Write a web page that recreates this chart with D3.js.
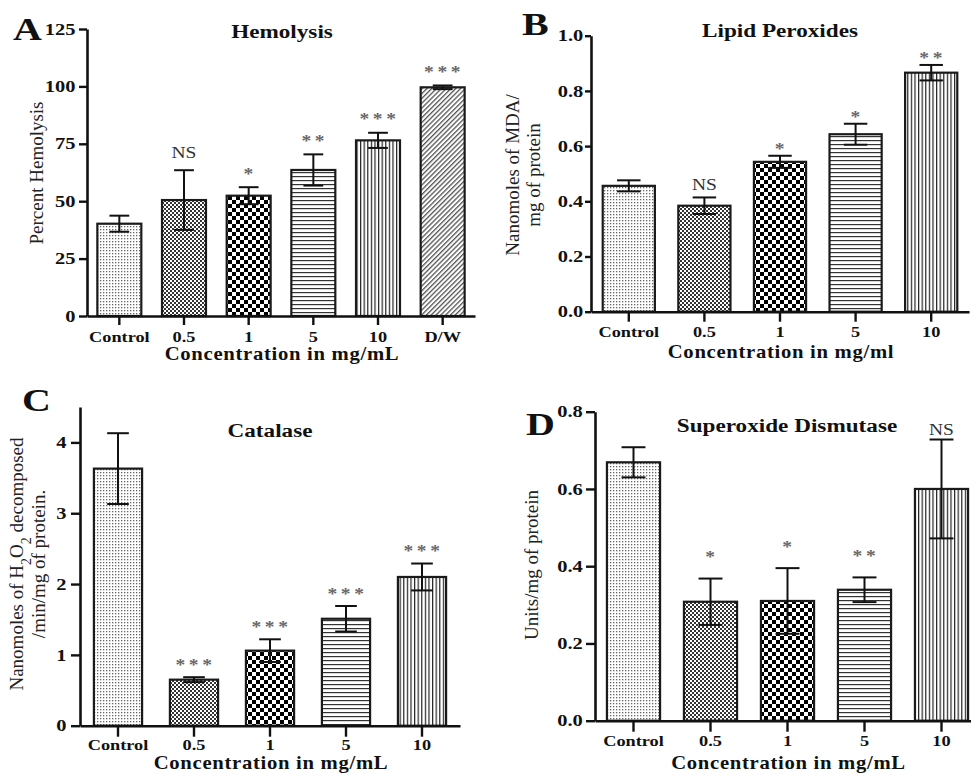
<!DOCTYPE html>
<html>
<head>
<meta charset="utf-8">
<script src="https://cdn.jsdelivr.net/npm/d3@7"></script>
<style>
  body { margin: 0; background: #fff; }
  text { font-family: "Liberation Serif", "Times New Roman", serif; }
</style>
</head>
<body>
<div id="chart"></div>
<script>
// ---- data ----
const groupsA = ["Control", "0.5", "1", "5", "10", "D/W"];
const groups = ["Control", "0.5", "1", "5", "10"];

const hemolysisMean = [40.2, 50.5, 52.4, 63.6, 76.5, 99.6];
const hemolysisErr = [3.5, 13.0, 3.7, 6.8, 3.3, 0.8];
const hemolysisSig = ["", "NS", "*", "**", "***", "***"];
const hemolysisTicks = [0, 25, 50, 75, 100, 125];

const lipidMean = [0.456, 0.384, 0.543, 0.643, 0.866];
const lipidErr = [0.02, 0.03, 0.022, 0.038, 0.028];
const lipidSig = ["", "NS", "*", "*", "**"];
const lipidTicks = [0, 0.2, 0.4, 0.6, 0.8, 1.0];

const catalaseMean = [3.63, 0.65, 1.06, 1.51, 2.10];
const catalaseErr = [0.5, 0.035, 0.16, 0.18, 0.19];
const catalaseSig = ["", "***", "***", "***", "***"];
const catalaseTicks = [0, 1, 2, 3, 4];

const sodMean = [0.669, 0.308, 0.31, 0.339, 0.6];
const sodErr = [0.039, 0.06, 0.085, 0.032, 0.128];
const sodSig = ["", "*", "*", "**", "NS"];
const sodTicks = [0, 0.2, 0.4, 0.6, 0.8];

const W = 971, H = 774;
const SX = 1.22; // the figure's text is stretched sideways

const svg = d3.select("#chart").append("svg")
  .attr("width", W).attr("height", H);

// fill patterns
const defs = svg.append("defs");
function pattern(id, w, h) {
  const p = defs.append("pattern").attr("id", id)
    .attr("patternUnits", "userSpaceOnUse")
    .attr("width", w).attr("height", h);
  p.append("rect").attr("width", w).attr("height", h).attr("fill", "#fff");
  return p;
}
let p = pattern("dots", 3, 3);
p.append("rect").attr("x", 1).attr("y", 1).attr("width", 1.3).attr("height", 1.3).attr("fill", "#666");
p = pattern("fineCheck", 4, 4);
p.append("rect").attr("width", 2).attr("height", 2).attr("fill", "#333");
p.append("rect").attr("x", 2).attr("y", 2).attr("width", 2).attr("height", 2).attr("fill", "#333");
p = pattern("check", 8, 8);
p.append("rect").attr("width", 4).attr("height", 4).attr("fill", "#000");
p.append("rect").attr("x", 4).attr("y", 4).attr("width", 4).attr("height", 4).attr("fill", "#000");
p = pattern("hlines", 4, 4);
p.append("rect").attr("width", 4).attr("height", 1.2).attr("fill", "#333");
p = pattern("vlines", 3.6, 4);
p.append("rect").attr("width", 1.2).attr("height", 4).attr("fill", "#222");
p = pattern("diag", 3.4, 3.4).attr("patternTransform", "rotate(45)");
p.append("rect").attr("width", 1.3).attr("height", 3.4).attr("fill", "#555");
const fills = ["dots", "fineCheck", "check", "hlines", "vlines", "diag"];

const panels = [
  { letter: "A", lx: 13, ly: 40, title: "Hemolysis", tx: 282, ty: 38,
    cats: groupsA, mean: hemolysisMean, err: hemolysisErr, sig: hemolysisSig,
    ticks: hemolysisTicks, fmt: d3.format("d"), yMax: 125,
    xr: [87, 475], yr: [316, 29], pad: 0.32, ytick: 8, ypad: 1,
    xtick: 9, xlab: 342, xtitle: "Concentration in mg/mL", xty: 360,
    ylab: [["Percent Hemolysis"]], ylx: [43], lyc: 173,
    gapStar: 16, gapNS: 18 },
  { letter: "B", lx: 522, ly: 35, title: "Lipid Peroxides", tx: 780, ty: 37,
    cats: groups, mean: lipidMean, err: lipidErr, sig: lipidSig,
    ticks: lipidTicks, fmt: d3.format(".1f"), yMax: 1.0,
    xr: [591, 969], yr: [311.7, 35.7], pad: 0.31, ytick: 6, ypad: 0,
    xtick: 10, xlab: 337, xtitle: "Concentration in mg/ml", xty: 358,
    ylab: [["Nanomoles of MDA/"], ["mg of protein"]], ylx: [519, 540], lyc: 175,
    gapStar: 9, gapNS: 13 },
  { letter: "C", lx: 22, ly: 411, title: "Catalase", tx: 270, ty: 437,
    cats: groups, mean: catalaseMean, err: catalaseErr, sig: catalaseSig,
    ticks: catalaseTicks, fmt: d3.format("d"), yMax: 4.5,
    xr: [80, 460], yr: [725.7, 407], pad: 0.366, ytick: 9, ypad: 1.5,
    xtick: 11, xlab: 750, xtitle: "Concentration in mg/mL", xty: 769,
    ylab: [["Nanomoles of H", "2", "O", "2", " decomposed"], ["/min/mg of protein."]],
    ylx: [23, 45], lyc: 564,
    gapStar: 15, gapNS: 15 },
  { letter: "D", lx: 526, ly: 435, title: "Superoxide Dismutase", tx: 787, ty: 432,
    cats: groups, mean: sodMean, err: sodErr, sig: sodSig,
    ticks: sodTicks, fmt: d3.format(".1f"), yMax: 0.8,
    xr: [595, 980], yr: [720.7, 411.7], pad: 0.31, ytick: 9, ypad: 0.5,
    xtick: 11, xlab: 746, xtitle: "Concentration in mg/mL", xty: 769,
    ylab: [["Units/mg of protein"]], ylx: [538], lyc: 565,
    gapStar: 24, gapNS: 10 }
];

function stretchedText(g, x, y, str, size, weight, sx) {
  return g.append("text")
    .attr("transform", `translate(${x},${y}) scale(${sx},1)`)
    .attr("text-anchor", "middle")
    .attr("font-size", size)
    .attr("font-weight", weight)
    .attr("fill", "#111")
    .text(str);
}

panels.forEach(cfg => {
  const g = svg.append("g");

  const x = d3.scaleBand()
    .domain(cfg.cats)
    .range(cfg.xr)
    .paddingInner(cfg.pad)
    .paddingOuter(cfg.pad / 2);
  const y = d3.scaleLinear().domain([0, cfg.yMax]).range(cfg.yr);

  const rows = cfg.cats.map((c, i) => ({ c, i, m: cfg.mean[i], e: cfg.err[i], s: cfg.sig[i] }));

  // bars
  g.selectAll("rect.bar")
    .data(rows)
    .enter().append("rect")
    .attr("class", "bar")
    .attr("x", d => x(d.c))
    .attr("y", d => y(d.m))
    .attr("width", x.bandwidth())
    .attr("height", d => y(0) - y(d.m))
    .attr("fill", d => `url(#${fills[d.i]})`)
    .attr("stroke", "#1a1a1a")
    .attr("stroke-width", 2.2);

  // error bars
  const cap = x.bandwidth() * 0.45;
  const eb = g.selectAll("g.err").data(rows).enter().append("g")
    .attr("transform", d => `translate(${x(d.c) + x.bandwidth() / 2},0)`)
    .attr("stroke", "#111").attr("stroke-width", 2);
  eb.append("line").attr("y1", d => y(d.m - d.e)).attr("y2", d => y(d.m + d.e));
  eb.append("line").attr("x1", -cap / 2).attr("x2", cap / 2)
    .attr("y1", d => y(d.m + d.e)).attr("y2", d => y(d.m + d.e));
  eb.append("line").attr("x1", -cap / 2).attr("x2", cap / 2)
    .attr("y1", d => y(d.m - d.e)).attr("y2", d => y(d.m - d.e));

  // significance marks
  rows.filter(d => d.s).forEach(d => {
    const cx = x(d.c) + x.bandwidth() / 2;
    const top = y(d.m + d.e);
    if (d.s === "NS") {
      stretchedText(g, cx, top - cfg.gapNS + 5.5, "NS", 16, "normal", SX).attr("fill", "#333");
    } else {
      stretchedText(g, cx + 1.5, top - cfg.gapStar + 7.5, d.s, 16, "bold", SX)
        .attr("fill", "#666").attr("letter-spacing", 3);
    }
  });

  // axes
  const yAxis = g.append("g")
    .attr("transform", `translate(${cfg.xr[0]},0)`)
    .call(d3.axisLeft(y).tickValues(cfg.ticks).tickFormat(cfg.fmt)
      .tickSize(cfg.ytick).tickSizeOuter(0).tickPadding(cfg.ypad));
  const xAxis = g.append("g")
    .attr("transform", `translate(0,${cfg.yr[0]})`)
    .call(d3.axisBottom(x).tickSize(cfg.xtick).tickSizeOuter(0));

  [yAxis, xAxis].forEach(a => {
    a.select(".domain").attr("stroke", "#111").attr("stroke-width", 2.6);
    a.selectAll(".tick line").attr("stroke", "#111").attr("stroke-width", 2.4);
    a.selectAll(".tick text")
      .attr("font-family", "Liberation Serif, Times New Roman, serif")
      .attr("font-size", 15).attr("font-weight", "bold").attr("fill", "#111");
  });
  yAxis.selectAll(".tick text").attr("font-size", 16).attr("transform", `scale(1.28,1)`);
  xAxis.selectAll(".tick text")
    .attr("y", cfg.xlab - cfg.yr[0]).attr("dy", null)
    .attr("transform", `scale(${SX},1)`);

  // titles
  stretchedText(g, cfg.tx, cfg.ty, cfg.title, 19, "bold", SX);
  stretchedText(g, (cfg.xr[0] + cfg.xr[1]) / 2 + 1, cfg.xty, cfg.xtitle, 18, "bold", 1.15)
    .attr("letter-spacing", 0.6);
  stretchedText(g, cfg.lx, cfg.ly, cfg.letter, 32, "bold", 1.25).attr("text-anchor", "start");

  // y label (rotated, possibly two lines)
  cfg.ylab.forEach((parts, li) => {
    const t = g.append("text")
      .attr("transform", `translate(${cfg.ylx[li]},${cfg.lyc}) rotate(-90)`)
      .attr("text-anchor", "middle")
      .attr("font-size", 19)
      .attr("fill", "#222");
    parts.forEach(s => {
      const sp = t.append("tspan").text(s);
      if (s === "2") sp.attr("baseline-shift", "sub").attr("font-size", 14);
    });
  });
});
</script>
</body>
</html>
